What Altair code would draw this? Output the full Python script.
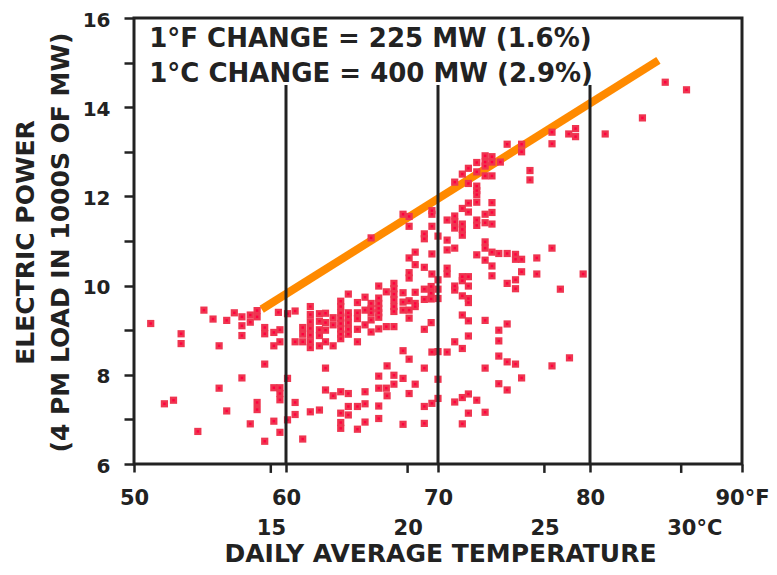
import altair as alt
import pandas as pd

# ---- data ----
temp_f = [
    51.1, 54.6, 55.2, 56.1, 56.6, 57.1, 57.1, 57.1, 57.65, 57.65, 58.1, 58.1,
    53.1, 53.1, 55.6, 58.6, 58.6, 59.2, 59.6, 59.2, 59.6, 59.5, 60.1, 60.6,
    61.6, 61.6, 61.6, 61.6, 61.6, 61.6, 61.6, 61.1, 61.1, 61.1, 60.6,
    62.2, 62.2, 62.2, 62.2, 62.2, 62.6, 62.6, 62.6, 62.6,
    58.6, 57.1, 60.1, 55.6, 52.6, 52.0, 56.1, 58.1, 58.1, 59.2, 59.6, 59.6, 59.6,
    60.6, 60.6, 62.6, 62.6, 62.2, 61.6, 57.65, 59.2, 60.1, 59.6, 54.2, 58.6, 61.1,
    63.1, 63.1, 63.1,
    63.6, 63.6, 63.6, 63.6, 63.6, 63.6, 63.6, 63.6,
    64.1, 64.1, 64.1, 64.1, 64.1, 64.1,
    64.7, 64.7, 64.7, 64.7, 64.7,
    65.2, 65.2, 65.2,
    65.6, 65.6, 65.6, 65.6, 65.6,
    66.1, 66.1, 66.1, 66.1, 66.1, 66.1, 66.1,
    66.6, 66.6,
    67.1, 67.1, 67.1, 67.1, 67.1, 67.1, 67.1,
    67.7, 67.7, 67.7, 68.1, 68.1, 68.1, 68.5, 68.5, 68.5, 69.1, 69.1, 69.1,
    69.55, 69.55, 69.55, 69.55, 70.0, 70.0, 70.0, 71.1, 71.1,
    71.6, 71.6, 71.6, 71.6, 72.0, 72.0, 72.0, 72.0, 72.0, 72.0,
    73.1, 74.55, 74.0, 74.0, 71.1, 71.6, 67.7, 68.1, 69.6, 70.0, 70.6, 74.0,
    74.55, 75.1, 73.1, 75.5, 74.0, 74.55,
    66.65, 67.1, 67.1, 66.1, 67.7, 69.1, 70.0, 68.5, 66.6, 66.1, 68.1, 66.65,
    63.1, 63.6, 64.1, 65.2, 65.2, 64.7, 64.1, 64.1, 63.6, 66.1, 66.1, 63.6, 63.6,
    64.7, 65.2, 67.7, 69.1, 69.6, 69.1, 70.0, 71.1, 71.6, 72.0, 72.55, 72.0, 73.1, 71.6,
    65.6, 69.1, 69.1, 70.0, 70.6, 70.6, 71.1, 73.1, 73.1, 72.55, 73.55, 74.0,
    74.55, 75.1, 75.5, 75.1, 76.5, 73.1, 73.55, 75.5, 76.5, 73.55,
    68.5, 68.1, 68.5, 69.6, 69.1, 68.1, 68.1, 69.6, 70.6, 70.6,
    74.55, 75.5, 75.5, 73.1, 73.1, 73.1, 73.55, 73.55, 72.55, 72.0, 72.55, 71.6,
    73.1, 73.55, 74.1, 76.05, 76.05, 71.1, 72.0, 72.55, 72.55, 72.55,
    72.55, 72.0, 72.0, 71.6, 73.55, 73.55, 73.1, 73.1, 73.55, 72.55, 72.55,
    71.1, 71.1, 71.1, 70.6, 71.6, 71.6, 71.6, 69.6, 69.6, 68.1, 67.7, 68.1, 69.6,
    77.5, 74.55, 75.1, 75.1, 78.05, 79.55, 77.5, 78.65,
    84.95, 86.35, 83.45, 81.0, 79.05, 79.05, 78.6, 77.5, 77.5,
]
load_gw = [
    9.15, 9.45, 9.25, 9.22, 9.39, 9.30, 9.10, 8.88, 9.34, 9.18, 9.44, 9.30,
    8.92, 8.70, 8.65, 9.06, 8.92, 8.95, 9.01, 8.65, 8.74, 9.40, 9.37, 9.43,
    9.53, 9.35, 9.19, 9.04, 8.89, 8.74, 8.61, 9.06, 8.91, 8.74, 8.74,
    9.37, 9.20, 9.01, 8.88, 8.65, 9.38, 9.17, 9.00, 8.74,
    8.24, 7.93, 7.92, 7.70, 7.43, 7.35, 7.19, 7.38, 7.22, 7.71, 7.71, 7.58, 7.44,
    7.38, 7.11, 8.15, 7.66, 7.21, 7.17, 6.90, 6.96, 6.99, 6.71, 6.73, 6.51, 6.56,
    8.65, 9.28, 9.12,
    9.65, 9.53, 9.39, 9.27, 9.15, 9.03, 8.91, 8.81,
    9.81, 9.39, 9.30, 9.17, 9.02, 8.91,
    9.62, 9.39, 9.26, 9.02, 8.74,
    9.74, 9.45, 9.12,
    9.60, 9.48, 9.39, 9.23, 8.96,
    9.99, 9.72, 9.60, 9.49, 9.39, 9.29, 9.03,
    9.86, 9.08,
    10.05, 9.93, 9.81, 9.68, 9.53, 9.42, 9.08,
    9.84, 9.63, 9.45, 9.66, 9.45, 9.27, 9.85, 9.60, 9.53, 9.92, 9.69, 9.02,
    9.98, 9.83, 9.70, 9.17, 10.13, 9.92, 9.71, 9.99, 9.90,
    10.20, 10.11, 9.77, 9.34, 10.20, 9.99, 9.71, 9.62, 9.21, 8.87,
    9.22, 9.14, 9.00, 8.76, 8.74, 8.59, 8.54, 8.35, 8.51, 8.52, 8.51, 8.42,
    8.29, 8.24, 8.15, 7.93, 7.80, 7.66,
    8.20, 7.99, 7.79, 7.97, 7.92, 8.15, 7.90, 7.79, 7.70, 7.70, 7.58, 7.53,
    7.53, 7.62, 7.58, 7.62, 7.35, 7.29, 7.29, 7.10, 7.14, 7.30, 7.02, 6.93, 6.80,
    6.78, 6.94, 6.89, 6.91, 7.36, 7.29, 7.47, 7.39, 7.49, 7.57, 7.43, 7.14, 7.16, 6.90,
    11.07, 11.16, 11.05, 11.11, 11.02, 10.80, 10.84, 10.98, 10.84, 10.69, 10.75, 10.72,
    10.72, 10.70, 10.59, 10.59, 10.62, 10.57, 10.44, 10.31, 10.26, 10.22,
    10.75, 10.62, 10.47, 10.71, 10.41, 10.29, 10.17, 10.26, 10.39, 10.26,
    13.17, 13.17, 13.00, 12.91, 12.77, 12.68, 12.89, 12.77, 12.76, 12.63, 12.55, 12.50,
    12.46, 12.46, 12.77, 12.58, 12.37, 12.32, 12.29, 12.23, 12.13, 12.04,
    11.87, 11.85, 11.65, 11.73, 11.86, 11.64, 11.60, 11.41, 11.38, 11.47, 11.35,
    11.56, 11.43, 11.29, 11.47, 11.38, 11.26, 11.13, 11.68, 11.60, 11.55, 11.60, 11.33, 11.33,
    10.84, 10.05, 10.13, 9.93, 9.92, 10.26, 8.20, 8.38,
    14.56, 14.39, 13.76, 13.40, 13.52, 13.34, 13.40, 13.44, 13.18,
]

fit_temp = [58.4, 84.5]
fit_load = [9.47, 15.05]

rule_temp = [60, 70, 80]
rule_bottom = 6
rule_top = 14.5

f_ticks = [50, 60, 70, 80, 90]
y_ticks = [6, 7, 8, 9, 10, 11, 12, 13, 14, 15, 16]

c_tick_temp = [59, 68, 77, 86]
c_labels = ["15", "20", "25", "30°C"]
c_label_level = 4.41
c_tick_end = 5.8

note_text = ["1°F CHANGE = 225 MW (1.6%)", "1°C CHANGE = 400 MW (2.9%)"]
note_x = [51, 51]
note_y = [15.35, 14.565]

x_title = "DAILY AVERAGE TEMPERATURE"
y_title = ["ELECTRIC POWER", "(4 PM LOAD IN 1000S OF MW)"]

# ---- tables ----
pts = pd.DataFrame({"x": temp_f, "y": load_gw})
fit = pd.DataFrame({"x": fit_temp, "y": fit_load})
rules = pd.DataFrame({"x": rule_temp, "y": [rule_bottom] * 3, "y2": [rule_top] * 3})
cticks = pd.DataFrame({"x": c_tick_temp, "y": [6] * 4, "y2": [c_tick_end] * 4})
clabs = pd.DataFrame({"x": c_tick_temp, "y": [c_label_level] * 4, "t": c_labels})
notes = pd.DataFrame({"x": note_x, "y": note_y, "t": note_text})

FONT = "DejaVu Sans"
INK = "#222222"

X = alt.X(
    "x:Q",
    scale=alt.Scale(domain=[50, 90], nice=False, zero=False),
    axis=alt.Axis(
        values=f_ticks, grid=False, domain=False,
        tickSize=8, tickWidth=2.5, tickColor=INK,
        labelExpr="datum.value == 90 ? '90°F' : datum.label",
        labelFont=FONT, labelFontSize=21, labelFontWeight="bold", labelColor=INK,
        labelPadding=15, labelFlush=False, labelOverlap=False,
        title=x_title, titleFont=FONT, titleFontSize=25, titleFontWeight="bold",
        titleColor=INK, titleX=306, titleY=97, titleBaseline="alphabetic",
        titleAlign="center",
    ),
)
Y = alt.Y(
    "y:Q",
    scale=alt.Scale(domain=[6, 16], nice=False, zero=False),
    axis=alt.Axis(
        values=y_ticks, grid=False, domain=False,
        tickSize=10, tickWidth=2.5, tickColor=INK,
        labelExpr="datum.value % 2 == 0 ? datum.label : ''",
        labelFont=FONT, labelFontSize=20, labelFontWeight="bold", labelColor=INK,
        labelPadding=14, labelOffset=2, labelFlush=False, labelOverlap=False,
        title=y_title, titleFont=FONT, titleFontSize=25, titleFontWeight="bold",
        titleColor=INK, titleX=-101, titleY=224, titleAngle=270,
        titleBaseline="alphabetic", titleAlign="center", titleLineHeight=35,
    ),
)

fit_layer = alt.Chart(fit).mark_line(color="#FF8A00", strokeWidth=8).encode(x=X, y=Y)
outer = alt.Chart(pts).mark_square(size=52, color="#EF3550", opacity=1).encode(x=X, y=Y)
inner = alt.Chart(pts).mark_square(size=6, color="#FF0040", opacity=1).encode(x=X, y=Y)
rule_layer = alt.Chart(rules).mark_rule(color=INK, strokeWidth=3).encode(
    x=X, y=Y, y2=alt.Y2("y2"))
ctick_layer = alt.Chart(cticks).mark_rule(color=INK, strokeWidth=2.5).encode(
    x=X, y=Y, y2=alt.Y2("y2"))
clab_layer = alt.Chart(clabs).mark_text(
    font=FONT, fontSize=21, fontWeight="bold", color=INK,
    align="left", baseline="alphabetic", dx=-14,
).encode(x=X, y=Y, text="t:N")
note_layer = alt.Chart(notes).mark_text(
    font=FONT, fontSize=26, fontWeight="bold", color=INK,
    align="left", baseline="alphabetic",
).encode(x=X, y=Y, text="t:N")

chart = alt.layer(
    fit_layer, outer, inner, rule_layer, ctick_layer, clab_layer, note_layer
).properties(
    width=608, height=446,
    autosize=alt.AutoSizeParams(type="none"),
    padding={"left": 126, "top": 10, "right": 27, "bottom": 103},
    background="white",
).configure_view(stroke=INK, strokeWidth=3)

chart.save("out.html", embed_options={"renderer": "svg", "actions": False})
